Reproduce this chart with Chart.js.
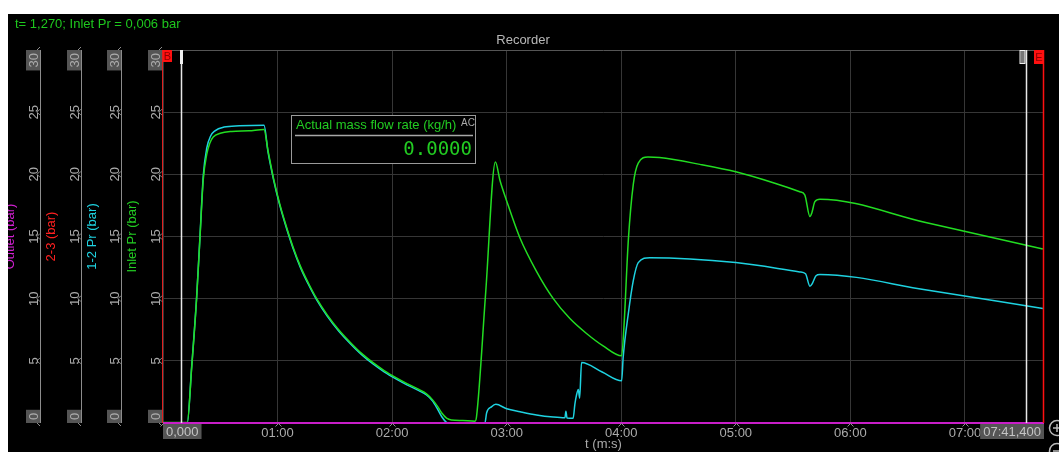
<!DOCTYPE html>
<html>
<head>
<meta charset="utf-8">
<script src="https://cdn.jsdelivr.net/npm/chart.js@4.4.1/dist/chart.umd.min.js"></script>
<style>
  html, body { margin: 0; padding: 0; background: #fff; }
  #wrap { position: relative; width: 1059px; height: 452px; overflow: hidden; }
  #chart { position: absolute; left: 0; top: 0; background: #000; }
  .strip { position: absolute; background: #fff; }
</style>
</head>
<body>
<div id="wrap">
  <canvas id="chart" width="1059" height="452"></canvas>
  <div class="strip" style="left:0;top:0;width:1059px;height:14px"></div>
  <div class="strip" style="left:0;top:0;width:8px;height:452px"></div>
</div>
<script>
// time axis in seconds, pressures in bar
const tMax = 461.4;
const cursorStart = 9.4;
const cursorEnd = 451.9;

// Inlet Pr (green)
const inletTime = [0, 12.7, 15, 17.6, 19.4, 21.1, 22.9, 24.5, 26.3, 30, 36, 45, 52.9, 55, 58, 61, 64, 68, 72, 76,
  80.5, 86, 92, 98, 104, 110, 116, 122, 128, 134, 138, 141, 143.5, 146, 148.5, 151, 157, 163.4, 164.2, 169, 174.1, 176.5,
  179.9, 186.9, 195.6, 204.4, 213.1, 221.8, 230.5, 240.2, 241.4, 243.7, 246.3, 248.9, 254, 260, 281.2, 300, 320, 333.5, 336.1,
  338.8, 339.8, 341.4, 344, 400, 460.8];
const inletPr = [0.05, 0.05, 4.4, 10, 15, 19.6, 21.6, 22.5, 23.0, 23.3, 23.45, 23.5, 23.6, 21.9, 19.6, 17.7, 16.1, 14.2, 12.6, 11.3,
  10.0, 8.7, 7.5, 6.5, 5.6, 4.85, 4.2, 3.65, 3.15, 2.7, 2.35, 1.9, 1.4, 0.8, 0.4, 0.25, 0.2, 0.15, 0.5, 10.5, 21.0, 19.5,
  17.9, 14.9, 12.2, 10.0, 8.4, 7.2, 6.2, 5.4, 7.7, 14.7, 19.2, 20.9, 21.4, 21.35, 20.8, 20.2, 19.3, 18.6, 18.35,
  16.6, 16.9, 17.8, 18.0, 16.1, 14.0];

// 1-2 Pr (cyan)
const pr12Time = [0, 12.7, 15, 17.6, 19.4, 21.1, 22.9, 25, 27.2, 32, 40, 52.9, 55, 58, 61, 64, 68, 72, 76, 80.5,
  86, 92, 98, 104, 110, 116, 122, 128, 134, 138, 141, 143.5, 146, 148.5, 150, 168.6, 169.5, 172, 174.3, 180, 187,
  195.6, 204.4, 210.5, 211, 211.6, 214.8, 215.7, 216.5, 217.5, 218.2, 219.2, 230, 240.2, 241, 243.7, 246.3, 248.9,
  255, 300, 333.5, 336.5, 338.8, 340, 342, 344, 400, 460.8];
const pr12 = [0, 0, 4.5, 10.1, 15.1, 19.9, 22.1, 23.1, 23.5, 23.8, 23.9, 23.95, 21.8, 19.5, 17.6, 16.0, 14.1, 12.5, 11.2, 9.9,
  8.6, 7.4, 6.4, 5.5, 4.75, 4.1, 3.55, 3.05, 2.6, 2.25, 1.8, 1.2, 0.5, 0.05, 0, 0, 0.83, 1.3, 1.5, 1.15, 0.91,
  0.65, 0.48, 0.42, 0.95, 0.4, 0.38, 1.5, 2.2, 2.7, 2.0, 4.87, 4.1, 3.39, 5.27, 8.8, 11.45, 12.9,
  13.3, 12.9, 12.15, 12.0, 11.0, 11.2, 11.85, 11.95, 10.7, 9.2];

// 2-3 and Outlet stay at zero
const flatTime = [0, tMax];
const pr23 = [0, 0];
const outlet = [0, 0];

const FONT = '"Liberation Sans", Arial, sans-serif';
const GREY = '#ababab';

function mmss(v) {
  const m = Math.floor(v / 60), s = Math.round(v % 60);
  return String(m).padStart(2, '0') + ':' + String(s).padStart(2, '0');
}
function pts(t, v) { return t.map((x, i) => ({ x: x, y: v[i] })); }

function yAxis(title, color, weight, width, grid) {
  return {
    type: 'linear', position: 'left', weight: weight, min: 0, max: 30,
    ticks: { display: false, stepSize: 5 },
    grid: { display: grid, drawTicks: false, color: c => (c.tick && c.tick.value === 30 ? '#555' : '#363636') },
    border: { display: false },
    title: { display: true, text: title, color: color, font: { family: FONT, size: 13 }, padding: { top: 3, bottom: 0 } },
    afterFit: s => { s.width = width; }
  };
}

function line(label, data, color, axis, width) {
  return {
    label: label, data: data, yAxisID: axis, borderColor: color, borderWidth: width,
    pointRadius: 0, fill: false, cubicInterpolationMode: 'monotone', clip: 4
  };
}

// extra drawing: side axes, markers, readout box
const decor = {
  id: 'decor',
  afterDatasetsDraw(chart) {
    const ctx = chart.ctx;
    const xs = chart.scales.x;
    const area = chart.chartArea;
    ctx.save();

    // side y axes with rotated labels
    ['yOut', 'y23', 'y12', 'yIn'].forEach(id => {
      const s = chart.scales[id];
      const ax = Math.round(s.right) - 0.5;
      ctx.lineWidth = 1;
      ctx.strokeStyle = id === 'yIn' ? '#e02020' : '#8c8c8c';
      ctx.beginPath(); ctx.moveTo(ax, s.top); ctx.lineTo(ax, s.bottom); ctx.stroke();
      ctx.font = '13px ' + FONT;
      s.ticks.forEach(t => {
        const y = s.getPixelForValue(t.value);
        const lab = String(t.value);
        ctx.strokeStyle = '#8c8c8c';
        ctx.beginPath(); ctx.moveTo(ax - 0.5, y - 3); ctx.lineTo(ax - 3.5, y); ctx.lineTo(ax - 0.5, y + 3); ctx.stroke();
        const w = ctx.measureText(lab).width + 6;
        let cy = y;
        if (t.value === s.max) cy = y + w / 2;
        if (t.value === s.min) cy = y - w / 2;
        if (t.value === s.max || t.value === s.min) {
          ctx.fillStyle = '#555';
          ctx.fillRect(ax - 14.5, cy - w / 2, 14, w);
        }
        ctx.save();
        ctx.translate(ax - 7.5, cy);
        ctx.rotate(-Math.PI / 2);
        ctx.fillStyle = GREY;
        ctx.textAlign = 'center';
        ctx.textBaseline = 'middle';
        ctx.fillText(lab, 0, 1);
        ctx.restore();
      });
    });

    // x tick chevrons
    ctx.strokeStyle = '#8c8c8c';
    xs.ticks.forEach(t => {
      const x = Math.round(xs.getPixelForValue(t.value)) + 0.5;
      ctx.beginPath(); ctx.moveTo(x - 3, area.bottom + 3.5); ctx.lineTo(x, area.bottom + 0.5); ctx.lineTo(x + 3, area.bottom + 3.5); ctx.stroke();
    });

    // start / end time boxes
    ctx.font = '13px ' + FONT;
    ctx.textBaseline = 'middle';
    let w = ctx.measureText('0,000').width + 6;
    ctx.fillStyle = '#555';
    ctx.fillRect(area.left, area.bottom + 1, w, 15);
    ctx.fillStyle = '#c4c4c4';
    ctx.textAlign = 'left';
    ctx.fillText('0,000', area.left + 3, area.bottom + 9);
    const endLab = '07:41,400';
    w = ctx.measureText(endLab).width + 6;
    ctx.fillStyle = '#555';
    ctx.fillRect(area.right - w, area.bottom + 1, w, 15);
    ctx.fillStyle = '#c4c4c4';
    ctx.textAlign = 'right';
    ctx.fillText(endLab, area.right - 3, area.bottom + 9);

    // cursors
    const xb = Math.round(xs.getPixelForValue(cursorStart)) + 0.5;
    const xe = Math.round(xs.getPixelForValue(cursorEnd)) + 0.5;
    ctx.strokeStyle = '#e8e8e8';
    ctx.lineWidth = 1.5;
    ctx.beginPath(); ctx.moveTo(xb, area.top); ctx.lineTo(xb, area.bottom); ctx.stroke();
    ctx.beginPath(); ctx.moveTo(xe, area.top); ctx.lineTo(xe, area.bottom); ctx.stroke();
    ctx.fillStyle = '#f0f0f0';
    ctx.fillRect(xb - 1.5, area.top, 3, 14);
    ctx.strokeStyle = '#f0f0f0';
    ctx.lineWidth = 1;
    ctx.fillStyle = '#777';
    ctx.fillRect(xe - 6, area.top + 1, 5, 12);
    ctx.strokeRect(xe - 6.5, area.top + 0.5, 5, 13);

    // begin / end flags
    ctx.strokeStyle = '#ff1010';
    ctx.lineWidth = 1.5;
    ctx.beginPath(); ctx.moveTo(area.right - 0.5, area.top); ctx.lineTo(area.right - 0.5, area.bottom); ctx.stroke();
    ctx.fillStyle = '#ff1010';
    ctx.fillRect(area.left, area.top, 9, 12);
    ctx.fillRect(area.right - 10, area.top, 10, 14);
    ctx.fillStyle = '#8a0000';
    ctx.font = '11px ' + FONT;
    ctx.textAlign = 'center';
    ctx.fillText('B', area.left + 4.5, area.top + 6.5);
    ctx.fillText('E', area.right - 5, area.top + 7.5);

    // readout box
    ctx.fillStyle = '#000';
    ctx.fillRect(291.5, 115.5, 184, 48);
    ctx.strokeStyle = '#9a9a9a';
    ctx.lineWidth = 1;
    ctx.strokeRect(291.5, 115.5, 184, 48);
    ctx.strokeStyle = '#a8a8a8';
    ctx.lineWidth = 1.5;
    ctx.beginPath(); ctx.moveTo(295, 135.5); ctx.lineTo(473, 135.5); ctx.stroke();
    ctx.textAlign = 'left';
    ctx.fillStyle = '#22cc22';
    ctx.font = '13px ' + FONT;
    ctx.fillText('Actual mass flow rate (kg/h)', 296, 125);
    ctx.fillStyle = GREY;
    ctx.font = '10px ' + FONT;
    ctx.fillText('AC', 461, 123);
    ctx.fillStyle = '#22cc22';
    ctx.font = '19px "DejaVu Sans Mono", monospace';
    ctx.textAlign = 'right';
    ctx.fillText('0.0000', 472, 150);

    // header texts
    ctx.font = '13px ' + FONT;
    ctx.textAlign = 'left';
    ctx.fillStyle = '#1ec81e';
    ctx.fillText('t= 1,270; Inlet Pr = 0,006 bar', 15, 24);
    ctx.textAlign = 'center';
    ctx.fillStyle = '#b8b8b8';
    ctx.fillText('Recorder', 523, 40);

    // zoom buttons
    ctx.strokeStyle = '#bbb';
    ctx.lineWidth = 1.5;
    [[1057, 428, true], [1057, 451, false]].forEach(b => {
      ctx.beginPath(); ctx.arc(b[0], b[1], 7.5, 0, Math.PI * 2); ctx.stroke();
      ctx.beginPath(); ctx.moveTo(b[0] - 4, b[1]); ctx.lineTo(b[0] + 4, b[1]);
      if (b[2]) { ctx.moveTo(b[0], b[1] - 4); ctx.lineTo(b[0], b[1] + 4); }
      ctx.stroke();
    });
    ctx.restore();
  }
};

new Chart(document.getElementById('chart'), {
  type: 'line',
  data: {
    datasets: [
      line('Outlet', pts(flatTime, outlet), '#c81ec8', 'yOut', 2),
      line('2-3', pts(flatTime, pr23), '#ff2020', 'y23', 2),
      line('Inlet Pr', pts(inletTime, inletPr), '#22dd22', 'yIn', 1.5),
      line('1-2 Pr', pts(pr12Time, pr12), '#1ed2e0', 'y12', 1.5)
    ]
  },
  options: {
    responsive: false,
    animation: false,
    layout: { padding: { top: 50, right: 15, bottom: 0, left: 0 } },
    plugins: { legend: { display: false }, tooltip: { enabled: false } },
    scales: {
      x: {
        type: 'linear', min: 0, max: tMax,
        ticks: {
          stepSize: 60, includeBounds: false, color: GREY, padding: 3, maxRotation: 0,
          font: { family: FONT, size: 13 },
          callback: v => (v === 0 ? '' : mmss(v))
        },
        grid: { color: '#363636', drawTicks: false },
        border: { display: false },
        title: { display: true, text: 't (m:s)', color: GREY, font: { family: FONT, size: 13 }, padding: 0 },
        afterFit: s => { s.height = 29; }
      },
      yOut: yAxis('Outlet (bar)', '#d020d0', 4, 41, false),
      y23: yAxis('2-3 (bar)', '#ff2020', 3, 41, false),
      y12: yAxis('1-2 Pr (bar)', '#1ed2e0', 2, 40, false),
      yIn: yAxis('Inlet Pr (bar)', '#22cc22', 1, 41, true)
    }
  },
  plugins: [decor]
});
</script>
</body>
</html>
